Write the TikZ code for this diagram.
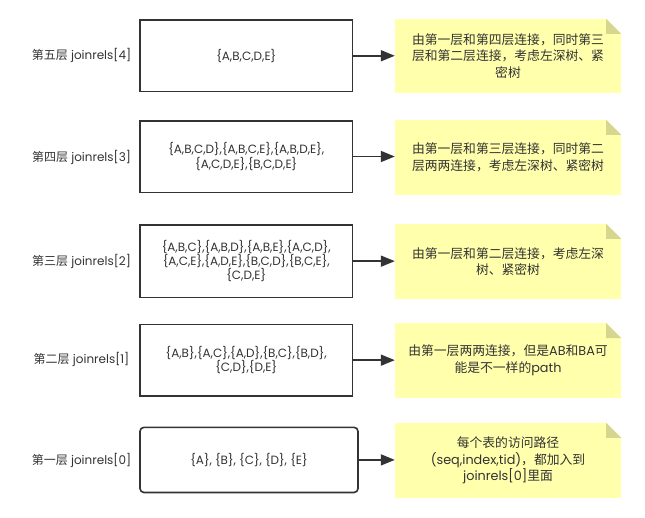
\documentclass[tikz,border=0pt]{standalone}
\usepackage{fontspec}
\setmainfont{Poppins}
\newfontfamily\cjk{Noto Sans CJK SC}
\usetikzlibrary{arrows.meta}
\definecolor{ink}{HTML}{333333}
\definecolor{notefill}{RGB}{255,255,172}
\definecolor{foldfill}{RGB}{214,214,142}
\newcommand\latn[1]{{\rmfamily #1}}
\begin{document}
\begin{tikzpicture}[x=1pt,y=-1pt,
  box/.style={draw=ink, line width=1.6pt, minimum width=212.5pt, minimum height=71.5pt,
    inner sep=0pt, align=center, text=ink, font=\fontsize{12}{14.2}\selectfont},
  note/.style={fill=notefill, minimum width=226pt, minimum height=75pt, inner sep=0pt,
    align=center, text=ink, font=\cjk\fontsize{12.8}{16.7}\selectfont},
  lbl/.style={text=ink, inner sep=0pt, font=\fontsize{12}{14}\selectfont},
  arr/.style={draw=ink, line width=1.6pt, -{Triangle[length=14pt,width=11pt]}}]
\useasboundingbox (0,0) rectangle (645,517);
% boxes
\node[box] (b5) at (246.25,55.75) {\{A,B,C,D,E\}};
\node[box, minimum height=71.6pt] (b4) at (246.25,156.5) {\{A,B,C,D\},\{A,B,C,E\},\{A,B,D,E\},\\\{A,C,D,E\},\{B,C,D,E\}};
\node[box, minimum height=72.3pt] (b3) at (246.25,261.15) {\{A,B,C\},\{A,B,D\},\{A,B,E\},\{A,C,D\},\\\{A,C,E\},\{A,D,E\},\{B,C,D\},\{B,C,E\},\\\{C,D,E\}};
\node[box, minimum height=71.7pt] (b2) at (246.25,360.15) {\{A,B\},\{A,C\},\{A,D\},\{B,C\},\{B,D\},\\\{C,D\},\{D,E\}};
\node[box, rounded corners=4pt, minimum width=218pt, minimum height=65.2pt] (b1) at (249,459.9) {\{A\}, \{B\}, \{C\}, \{D\}, \{E\}};
% labels
\node[lbl] (l5) at (81.5,55.5) {{\cjk 第五层} joinrels[4]};
\node[lbl] (l4) at (81.5,157) {{\cjk 第四层} joinrels[3]};
\node[lbl] (l3) at (81.5,261) {{\cjk 第三层} joinrels[2]};
\node[lbl] (l2) at (81.5,359.5) {{\cjk 第二层} joinrels[1]};
\node[lbl] (l1) at (81.5,460.5) {{\cjk 第一层} joinrels[0]};
% notes
\node[note, minimum height=74pt] (n5) at (508,56) {由第一层和第四层连接，同时第三\\层和第二层连接，考虑左深树、紧\\密树};
\node[note] (n4) at (508,157.5) {由第一层和第三层连接，同时第二\\层两两连接，考虑左深树、紧密树};
\node[note] (n3) at (508,261.5) {由第一层和第二层连接，考虑左深\\树、紧密树};
\node[note, minimum height=74.4pt] (n2) at (508,360.5) {由第一层两两连接，但是\latn{AB}和\latn{BA}可\\能是不一样的\latn{path}};
\node[note] (n1) at (508,460.5) {每个表的访问路径\\\latn{(seq,index,tid)}，都加入到\\\latn{joinrels[0]}里面};
\foreach \n in {n1,n2,n3,n4,n5} {
  \fill[white] ([xshift=-15pt]\n.north east) -- (\n.north east) -- ([yshift=-15pt]\n.north east) -- cycle;
  \fill[foldfill] ([xshift=-15pt]\n.north east) -- ([xshift=-15pt,yshift=-15pt]\n.north east) -- ([yshift=-15pt]\n.north east) -- cycle;
}
% arrows
\draw[arr] (b5.east) -- (b5.east -| n5.west);
\draw[arr] (b4.east) -- (b4.east -| n4.west);
\draw[arr] (b3.east) -- (b3.east -| n3.west);
\draw[arr] (b2.east) -- (b2.east -| n2.west);
\draw[arr] (b1.east) -- (b1.east -| n1.west);
\end{tikzpicture}
\end{document}
